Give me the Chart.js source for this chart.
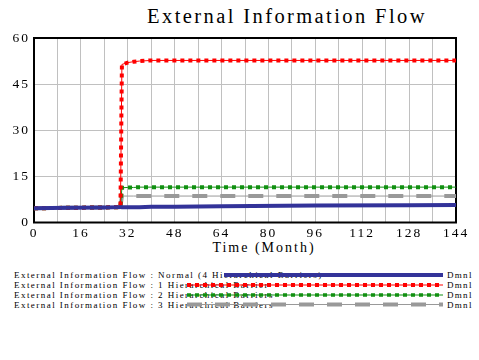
<!DOCTYPE html>
<html>
<head>
<meta charset="utf-8">
<script src="https://cdn.jsdelivr.net/npm/chart.js@4"></script>
<style>
  html, body { margin: 0; padding: 0; background: #fff; }
  #wrap { position: relative; width: 479px; height: 360px; overflow: hidden; }
  #c { position: absolute; left: 0; top: 0; z-index: 2; }
  .t { position: absolute; white-space: nowrap; font-family: "Liberation Serif", "DejaVu Serif", serif; color: #000; z-index: 1; }
  #title { font-size: 20.5px; letter-spacing: 2.4px; left: 287px; top: 5px; transform: translateX(-50%); }
  #xtitle { font-size: 14px; letter-spacing: 2px; left: 264px; top: 240px; transform: translateX(-50%); }
  .leg { font-size: 9px; letter-spacing: 1.45px; left: 14px; line-height: 10px; }
  .unit { font-size: 9px; letter-spacing: 1.3px; left: 447px; line-height: 10px; }
</style>
</head>
<body>
<div id="wrap">
  <div id="title" class="t">External Information Flow</div>
  <div id="xtitle" class="t">Time (Month)</div>
  <div class="t leg" style="top:270px">External Information Flow : Normal (4 Hierarchical Barriers)</div>
  <div class="t leg" style="top:280px">External Information Flow : 1 Hierarchical Barrier</div>
  <div class="t leg" style="top:290px">External Information Flow : 2 Hierarchical Barriers</div>
  <div class="t leg" style="top:300px">External Information Flow : 3 Hierarchical Barriers</div>
  <div class="t unit" style="top:270px">Dmnl</div>
  <div class="t unit" style="top:280px">Dmnl</div>
  <div class="t unit" style="top:290px">Dmnl</div>
  <div class="t unit" style="top:300px">Dmnl</div>
  <canvas id="c" width="479" height="360"></canvas>
</div>
<script>
// ---- data ----
const time        = [0,   6,   12,  24,  29.5, 30,   32,   34,   36,   40,   48,   64,   96,   128,  144];
const normal4     = [4.6, 4.7, 4.8, 4.9, 5.0,  5.0,  5.0,  5.0,  5.0,  5.1,  5.1,  5.3,  5.5,  5.6,  5.7];
const barrier1    = [4.6, 4.7, 4.8, 4.9, 5.0,  51.4, 52.0, 52.3, 52.5, 52.7, 52.7, 52.7, 52.7, 52.7, 52.7];
const barriers2   = [4.6, 4.7, 4.8, 4.9, 5.0,  11.3, 11.4, 11.4, 11.5, 11.5, 11.5, 11.5, 11.5, 11.5, 11.5];
const barriers3   = [4.6, 4.7, 4.8, 4.9, 5.0,  8.6,  8.6,  8.6,  8.6,  8.6,  8.6,  8.6,  8.6,  8.6,  8.6];
const xTicks      = [0, 16, 32, 48, 64, 80, 96, 112, 128, 144];
const yTicks      = [0, 15, 30, 45, 60];

const BLUE = '#333399', RED = '#ff0000', GREEN = '#119011', GRAY = '#999999';
const pts = arr => time.map((t, i) => ({ x: t, y: arr[i] }));

function ds(arr, color, width, dash, order) {
  return { data: pts(arr), borderColor: color, backgroundColor: color, borderWidth: width,
           borderDash: dash || [], borderCapStyle: 'butt', pointRadius: 0, tension: 0,
           fill: false, order: order, clip: false };
}

const framePlugin = {
  id: 'frame',
  beforeDraw(chart) { chart.ctx.letterSpacing = '2px'; },
  beforeDatasetsDraw(chart) {
    const { ctx, chartArea: a } = chart;
    ctx.save();
    ctx.strokeStyle = '#000'; ctx.lineWidth = 2;
    ctx.strokeRect(a.left, a.top, a.right - a.left, a.bottom - a.top);
    ctx.restore();
  },
  afterDraw(chart) {
    const ctx = chart.ctx;
    const rows = [
      { y: 275, x0: 224, col: BLUE, w: 4, dash: [], thin: false },
      { y: 285, x0: 187, col: RED, w: 4, dash: [4, 4], thin: true },
      { y: 295, x0: 187, col: GREEN, w: 3.5, dash: [4, 4], thin: true },
      { y: 304.5, x0: 187, col: GRAY, w: 4, dash: [15, 13], thin: true }
    ];
    ctx.save();
    rows.forEach(r => {
      if (r.thin) {
        ctx.setLineDash([]); ctx.lineWidth = 1; ctx.strokeStyle = r.col;
        ctx.beginPath(); ctx.moveTo(r.x0, r.y); ctx.lineTo(443, r.y); ctx.stroke();
      }
      ctx.setLineDash(r.dash); ctx.lineWidth = r.w; ctx.strokeStyle = r.col; ctx.lineCap = 'butt';
      ctx.beginPath(); ctx.moveTo(r.x0, r.y); ctx.lineTo(443, r.y); ctx.stroke();
    });
    ctx.restore();
  }
};

new Chart(document.getElementById('c'), {
  type: 'line',
  data: {
    datasets: [
      ds(normal4, BLUE, 4, null, 0),
      ds(barrier1, RED, 1, null, 1),
      ds(barrier1, RED, 4, [4, 4], 1),
      ds(barriers2, GREEN, 1, null, 2),
      ds(barriers2, GREEN, 4, [4, 4], 2),
      ds(barriers3, GRAY, 1, null, 3),
      ds(barriers3, GRAY, 4, [15, 13], 3)
    ]
  },
  options: {
    responsive: false,
    devicePixelRatio: 1,
    animation: false,
    events: [],
    layout: { padding: { top: 38, right: 23, left: 0, bottom: 0 } },
    plugins: { legend: { display: false }, tooltip: { enabled: false }, title: { display: false } },
    scales: {
      x: {
        type: 'linear', min: 0, max: 144,
        afterFit(s) { s.height = 137.5; },
        afterBuildTicks(s) {
          const t = [];
          for (let v = 0; v <= 144; v += 8) t.push({ value: v });
          s.ticks = t;
        },
        ticks: {
          autoSkip: false, maxRotation: 0, padding: 3, color: '#000',
          font: { family: 'Liberation Serif', size: 13.5 },
          callback: v => xTicks.includes(v) ? String(v) : ''
        },
        grid: { color: '#c0c0c0', lineWidth: 1, drawTicks: false },
        border: { display: false }
      },
      y: {
        min: 0, max: 60,
        afterFit(s) { s.width = 34; },
        afterBuildTicks(s) { s.ticks = yTicks.map(v => ({ value: v })); },
        ticks: {
          padding: 4, color: '#000',
          font: { family: 'Liberation Serif', size: 13.5 }
        },
        grid: { color: '#c0c0c0', lineWidth: 1, drawTicks: false },
        border: { display: false }
      }
    }
  },
  plugins: [framePlugin]
});
</script>
</body>
</html>
